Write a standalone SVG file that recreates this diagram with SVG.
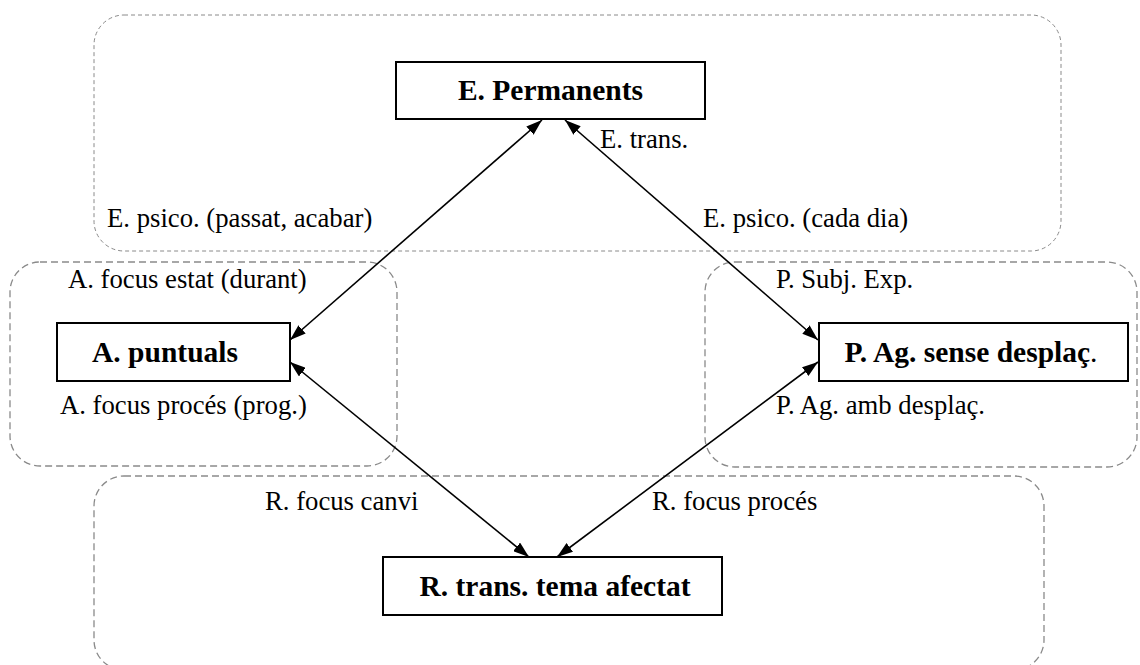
<svg xmlns="http://www.w3.org/2000/svg" width="1140" height="665" viewBox="0 0 1140 665">
  <style>
    .cluster { fill: none; stroke: #8a8a8a; stroke-width: 1.3; stroke-dasharray: 7 4; }
    .cluster.fine { stroke-width: 1; stroke-dasharray: 4 3; }
    .box { fill: #ffffff; stroke: #000000; stroke-width: 2; }
    .title { font-family: "Liberation Serif", "Times New Roman", serif; font-size: 29.5px; font-weight: bold; fill: #000; text-anchor: middle; }
    .label { font-family: "Liberation Serif", "Times New Roman", serif; font-size: 26.7px; fill: #000; }
    .edge { stroke: #000; stroke-width: 1.6; fill: none; marker-start: url(#head); marker-end: url(#head); }
  </style>
  <defs>
    <marker id="head" viewBox="0 0 16 11" refX="16" refY="5.5" markerWidth="16" markerHeight="11" markerUnits="userSpaceOnUse" orient="auto-start-reverse">
      <path d="M0,0 L16,5.5 L0,11 Z" fill="#000"/>
    </marker>
  </defs>

  <rect width="1140" height="665" fill="#ffffff"/>

  <!-- clusters -->
  <g id="clusters">
    <rect class="cluster fine" x="94" y="15" width="967" height="236" rx="30" ry="30"/>
    <rect class="cluster" x="10" y="262" width="387" height="204" rx="30" ry="30"/>
    <rect class="cluster" x="705" y="262" width="432" height="205" rx="30" ry="30"/>
    <rect class="cluster" x="94" y="476" width="950" height="194" rx="30" ry="30"/>
  </g>

  <!-- connectors -->
  <g id="connectors">
    <line class="edge" x1="542" y1="120" x2="290" y2="340"/>
    <line class="edge" x1="565" y1="120" x2="818" y2="340"/>
    <line class="edge" x1="290" y1="362" x2="529" y2="557"/>
    <line class="edge" x1="818" y1="362" x2="557" y2="557"/>
  </g>

  <!-- edge and cluster labels -->
  <g id="labels">
    <text class="label" x="600" y="148">E. trans.</text>
    <text class="label" x="107" y="227">E. psico. (passat, acabar)</text>
    <text class="label" x="703" y="227">E. psico. (cada dia)</text>
    <text class="label" x="68" y="288">A. focus estat (durant)</text>
    <text class="label" x="60" y="414">A. focus procés (prog.)</text>
    <text class="label" x="776" y="288">P. Subj. Exp.</text>
    <text class="label" x="776" y="414">P. Ag. amb desplaç.</text>
    <text class="label" x="265" y="510">R. focus canvi</text>
    <text class="label" x="652" y="510">R. focus procés</text>
  </g>

  <!-- nodes -->
  <g id="node-permanents">
    <rect class="box" x="396" y="62" width="309" height="57"/>
    <text class="title" x="550.5" y="100">E. Permanents</text>
  </g>
  <g id="node-puntuals">
    <rect class="box" x="57" y="323" width="233" height="58"/>
    <text class="title" x="165" y="362">A. puntuals</text>
  </g>
  <g id="node-sense-desplac">
    <rect class="box" x="819" y="323" width="309" height="58"/>
    <text class="title" x="971" y="362">P. Ag. sense desplaç<tspan font-weight="normal">.</tspan></text>
  </g>
  <g id="node-tema-afectat">
    <rect class="box" x="383" y="557" width="339" height="58"/>
    <text class="title" x="555" y="596">R. trans. tema afectat</text>
  </g>
</svg>
